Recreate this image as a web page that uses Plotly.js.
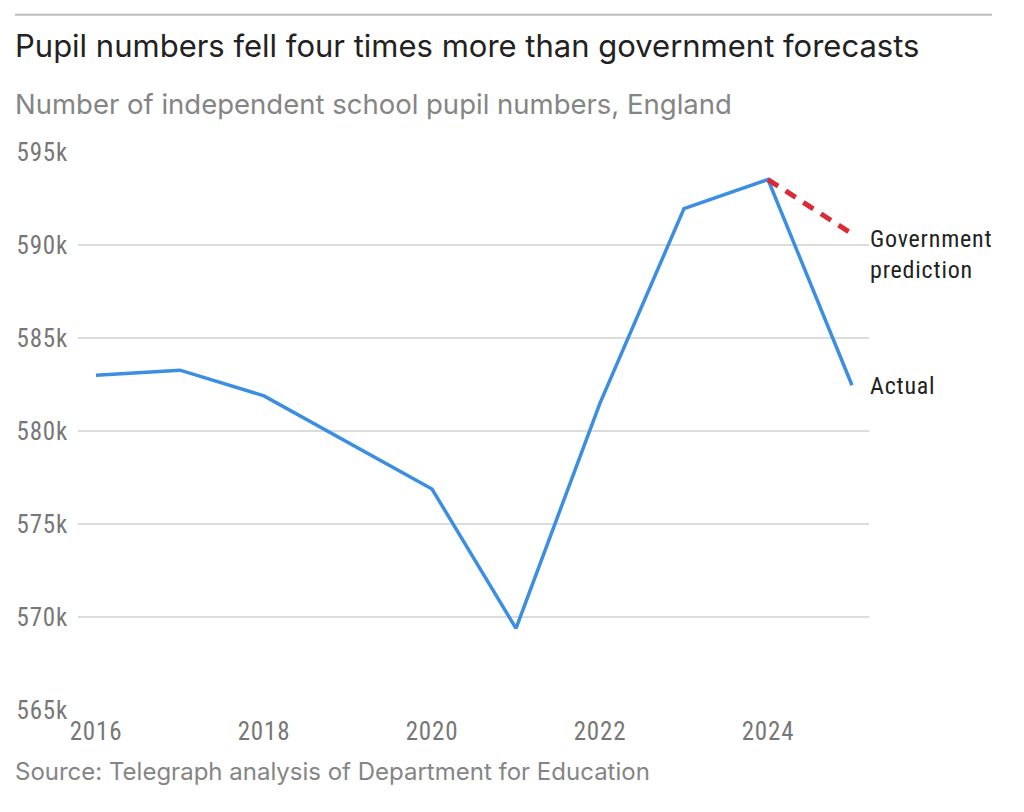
<!DOCTYPE html>
<html>
<head>
<meta charset="utf-8">
<script src="https://cdn.plot.ly/plotly-3.0.1.min.js"></script>
<style>
  html, body { margin: 0; padding: 0; background: #fff; }
  #chart { width: 1024px; height: 812px; }
  .xtick text, .ytick text, .cond text { font-stretch: 87%; letter-spacing: 0.8px; }
</style>
</head>
<body>
<div id="chart"></div>
<script>
// Data (thousands of pupils)
const years = [2016, 2017, 2018, 2019, 2020, 2021, 2022, 2023, 2024, 2025];
const actual = [583.0, 583.27, 581.89, 579.4, 576.88, 569.39, 581.5, 591.96, 593.52, 582.46];
const predYears = [2024, 2025];
const prediction = [593.52, 590.6];
const yTicks = [565, 570, 575, 580, 585, 590, 595];
const xTicks = [2016, 2018, 2020, 2022, 2024];

const titleText = 'Pupil numbers fell four times more than government forecasts';
const subtitleText = 'Number of independent school pupil numbers, England';
const sourceText = 'Source: Telegraph analysis of Department for Education';
const labelPrediction = 'Government<br>prediction';
const labelActual = 'Actual';

const condensed = 'Roboto, sans-serif';
const sans = 'Inter, "Noto Sans", sans-serif';

// layout geometry helpers (pixel -> paper)
const L = 78, R = 869, T = 151.7, B = 710;
const px = x => (x - L) / (R - L);
const py = y => (B - y) / (B - T);

const traces = [
  {
    x: years, y: actual, type: 'scatter', mode: 'lines',
    line: { color: '#3b8ee2', width: 3.5 },
    hoverinfo: 'skip', showlegend: false
  },
  {
    x: predYears, y: prediction, type: 'scatter', mode: 'lines',
    line: { color: '#dc2a33', width: 5, dash: '12px,9px' },
    hoverinfo: 'skip', showlegend: false
  }
];

const layout = {
  width: 1024, height: 812,
  margin: { l: L, r: 1024 - R, t: T, b: 812 - B },
  paper_bgcolor: '#ffffff', plot_bgcolor: '#ffffff',
  showlegend: false,
  xaxis: {
    range: [2016 - 18 / 84, 2016 + (869 - 96) / 84],
    tickvals: xTicks, ticktext: xTicks.map(String),
    showgrid: false, zeroline: false, showline: false,
    ticks: '', ticklabelstandoff: 4,
    tickfont: { family: condensed, size: 25, color: '#777777' }
  },
  yaxis: {
    range: [565, 595],
    tickvals: yTicks, ticktext: yTicks.map(v => v + 'k'),
    showgrid: true, gridcolor: '#dcdcdc', gridwidth: 1.5,
    zeroline: false, showline: false,
    ticks: '', ticklabelstandoff: 9,
    tickfont: { family: condensed, size: 25, color: '#777777' }
  },
  shapes: [
    {
      type: 'line', xref: 'paper', yref: 'paper',
      x0: px(15), x1: px(992), y0: py(14.5), y1: py(14.5),
      line: { color: '#bdbdbd', width: 2 }
    }
  ],
  annotations: [
    {
      text: titleText, xref: 'paper', yref: 'paper',
      x: px(13), y: py(45), xanchor: 'left', yanchor: 'middle', showarrow: false,
      font: { family: sans, size: 31, color: '#222222' }
    },
    {
      text: subtitleText, xref: 'paper', yref: 'paper',
      x: px(13), y: py(104), xanchor: 'left', yanchor: 'middle', showarrow: false,
      font: { family: sans, size: 27.5, color: '#858585' }
    },
    {
      text: sourceText, xref: 'paper', yref: 'paper',
      x: px(13), y: py(772), xanchor: 'left', yanchor: 'middle', showarrow: false,
      font: { family: sans, size: 24, color: '#858585' }
    },
    {
      text: labelPrediction, xref: 'x', yref: 'y',
      x: predYears[1], y: prediction[1], xanchor: 'left', yanchor: 'middle',
      xshift: 16, yshift: -21, align: 'left', showarrow: false,
      font: { family: condensed, size: 24, color: '#222222' }
    },
    {
      text: labelActual, xref: 'x', yref: 'y',
      x: years[years.length - 1], y: actual[actual.length - 1], xanchor: 'left', yanchor: 'middle',
      xshift: 16, yshift: -1, align: 'left', showarrow: false,
      font: { family: condensed, size: 24, color: '#222222' }
    }
  ]
};

Plotly.newPlot('chart', traces, layout, { staticPlot: true, displayModeBar: false }).then(gd => {
  // mark the two end labels so the narrow font width applies to them
  const anns = gd.querySelectorAll('.annotation');
  [3, 4].forEach(i => { if (anns[i]) anns[i].classList.add('cond'); });
});
</script>
</body>
</html>
